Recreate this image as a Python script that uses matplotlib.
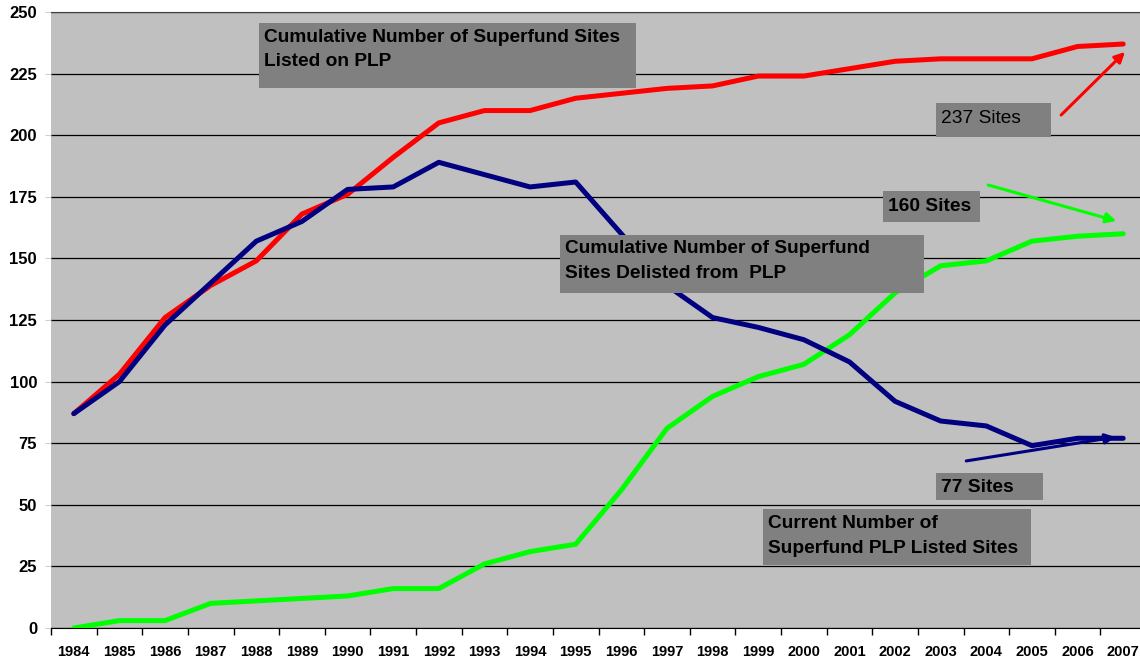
import numpy as np
import matplotlib
matplotlib.use("Agg")
import matplotlib.pyplot as plt
from matplotlib.patches import Rectangle

plt.rcParams['font.family'] = ['Liberation Sans', 'DejaVu Sans']

years = [str(y) for y in range(1984, 2008)]
listed = [87, 103, 126, 139, 149, 168, 176, 191, 205, 210, 210, 215,
          217, 219, 220, 224, 224, 227, 230, 231, 231, 231, 236, 237]
delisted = [87, 100, 123, 140, 157, 165, 178, 179, 189, 184, 179, 181,
            160, 139, 126, 122, 117, 108, 92, 84, 82, 74, 77, 77]
current = [0, 3, 3, 10, 11, 12, 13, 16, 16, 26, 31, 34,
           56, 81, 94, 102, 107, 119, 136, 147, 149, 157, 159, 160]

x = np.arange(len(years))

fig = plt.figure(figsize=(11.4, 6.62), dpi=100)
ax = fig.add_axes([51 / 1140, 34 / 662, 1095 / 1140, 616 / 662])
ax.set_facecolor('#C0C0C0')

# lines
ax.plot(x, listed, color='#FF0000', lw=3.6, zorder=3, solid_capstyle='round')
ax.plot(x, current, color='#00FF00', lw=3.6, zorder=3, solid_capstyle='round')
ax.plot(x, delisted, color='#000080', lw=3.6, zorder=4, solid_capstyle='round')

# axes setup
ax.set_xlim(-0.5, len(years) - 0.5)
ax.set_ylim(0, 250)
ax.set_yticks(np.arange(0, 251, 25))
ax.set_xticks(x)
ax.set_xticklabels(years, fontsize=10.5, fontweight='bold')
ax.set_xticks(np.arange(-0.5, len(years), 1), minor=True)
ax.tick_params(axis='x', which='major', length=0, pad=12)
ax.tick_params(axis='x', which='minor', length=5, width=1, color='black', direction='out')
ax.tick_params(axis='y', length=4, color='#D0D0D0', pad=6, labelsize=12)
for lab in ax.get_yticklabels():
    lab.set_fontweight('bold')
ax.yaxis.grid(True, color='black', lw=0.9, zorder=1)
ax.set_axisbelow(True)
for side in ['left', 'right']:
    ax.spines[side].set_visible(False)
ax.spines['top'].set_color('#404040')
ax.spines['bottom'].set_color('black')


def label_box(x0, x1, y0, y1, lines, ys, weight='bold'):
    ax.add_patch(Rectangle((x0, y0), x1 - x0, y1 - y0, facecolor='#808080',
                           edgecolor='none', zorder=5))
    for txt, yy in zip(lines, ys):
        ax.text(x0 + 0.11, yy, txt, fontsize=13.8, fontweight=weight,
                color='black', va='center', ha='left', zorder=6)


label_box(4.05, 12.33, 219.2, 245.5,
          ['Cumulative Number of Superfund Sites', 'Listed on PLP'], [239.8, 229.8])
label_box(10.65, 18.64, 136.0, 159.5,
          ['Cumulative Number of Superfund', 'Sites Delisted from  PLP'], [154.0, 143.8])
label_box(18.90, 21.42, 199.3, 213.1, ['237 Sites'], [206.8], weight='normal')
label_box(17.74, 19.87, 164.8, 177.4, ['160 Sites'], [171.2])
label_box(18.90, 21.25, 51.9, 62.9, ['77 Sites'], [57.0])
label_box(15.11, 20.99, 25.6, 48.3,
          ['Current Number of', 'Superfund PLP Listed Sites'], [42.4, 32.2])

# arrows
arrows = [((21.64, 208.2), (23.04, 233.8), '#FF0000'),
          ((20.04, 179.8), (22.85, 165.2), '#00FF00'),
          ((19.56, 67.8), (22.83, 77.5), '#000080')]
for start, end, col in arrows:
    ax.annotate('', xy=end, xytext=start,
                arrowprops=dict(arrowstyle='-|>', color=col, lw=2.2,
                                mutation_scale=15, shrinkA=0, shrinkB=0),
                zorder=7)

fig.savefig('out.png', dpi=100, facecolor='white')
